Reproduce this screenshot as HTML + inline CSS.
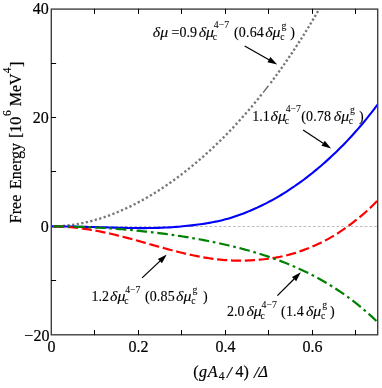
<!DOCTYPE html>
<html><head><meta charset="utf-8"><title>Free energy</title>
<style>
html,body{margin:0;padding:0;background:#fff;}
svg{display:block;font-family:"Liberation Serif",serif;font-size:16px;fill:#000;will-change:transform;}
text{stroke:#000;stroke-width:0.2px;}
.ax line{stroke:#000;stroke-width:1;}
.it{font-style:italic;}
.sl{font-style:italic;font-size:17px;}
.s,.s3{font-size:11.5px;}
.a{font-size:14px;stroke-width:0.12px;}
.as{font-size:9.8px;stroke-width:0.05px;}
.s,.s3{stroke-width:0.15px;}
.g{font-size:14.7px;font-style:italic;stroke-width:0.1px;}
</style></head><body>
<svg width="382" height="388" viewBox="0 0 382 388">
<rect width="382" height="388" fill="#fff"/>
<defs><clipPath id="cp"><rect x="51.5" y="9.1" width="326.3" height="325.95"/></clipPath></defs>
<g class="ax">
<line x1="94.5" y1="334.8" x2="94.5" y2="330.00"/>
<line x1="94.5" y1="9.1" x2="94.5" y2="13.90"/>
<line x1="138.5" y1="334.8" x2="138.5" y2="330.00"/>
<line x1="138.5" y1="9.1" x2="138.5" y2="13.90"/>
<line x1="181.5" y1="334.8" x2="181.5" y2="330.00"/>
<line x1="181.5" y1="9.1" x2="181.5" y2="13.90"/>
<line x1="225.5" y1="334.8" x2="225.5" y2="330.00"/>
<line x1="225.5" y1="9.1" x2="225.5" y2="13.90"/>
<line x1="268.5" y1="334.8" x2="268.5" y2="330.00"/>
<line x1="268.5" y1="9.1" x2="268.5" y2="13.90"/>
<line x1="312.5" y1="334.8" x2="312.5" y2="330.00"/>
<line x1="312.5" y1="9.1" x2="312.5" y2="13.90"/>
<line x1="355.5" y1="334.8" x2="355.5" y2="330.00"/>
<line x1="355.5" y1="9.1" x2="355.5" y2="13.90"/>
<line x1="51.3" y1="63.5" x2="56.10" y2="63.5"/>
<line x1="51.3" y1="117.5" x2="56.10" y2="117.5"/>
<line x1="51.3" y1="171.5" x2="56.10" y2="171.5"/>
<line x1="51.3" y1="226.5" x2="56.10" y2="226.5"/>
<line x1="51.3" y1="280.5" x2="56.10" y2="280.5"/>
</g>
<line x1="51.5" y1="226.5" x2="377.8" y2="226.5" stroke="#b4b4b4" stroke-width="0.9" stroke-dasharray="2.7 2.0" stroke-dashoffset="1.75"/>
<g clip-path="url(#cp)" fill="none" stroke-linejoin="round">
<path d="M85.74 222.41L87.93 221.89M81.22 223.37L83.43 222.92M76.68 224.21L78.90 223.82M72.12 224.92L74.34 224.59M67.53 225.50L69.77 225.24M62.93 225.94L65.18 225.74M58.32 226.23L60.57 226.11M53.71 226.38L55.96 226.33M90.23 221.32L92.41 220.75M94.73 220.12L96.89 219.49M99.19 218.80L101.33 218.12M103.61 217.37L105.74 216.65M108.01 215.84L110.12 215.07M112.37 214.22L114.46 213.40M116.69 212.50L118.77 211.64M120.97 210.69L123.03 209.79M125.22 208.80L127.27 207.85M129.44 206.82L131.46 205.84M133.61 204.77L135.61 203.75M137.74 202.64L139.73 201.58M141.84 200.44L143.81 199.35M145.90 198.16L147.85 197.04M149.92 195.83L151.86 194.67M153.91 193.43L155.82 192.24M157.85 190.96L159.75 189.75M161.76 188.44L163.64 187.20M165.63 185.86L167.49 184.59M169.47 183.23L171.31 181.93M173.27 180.54L175.09 179.22M177.03 177.80L178.83 176.46M180.75 175.01L182.54 173.65M184.44 172.18L186.21 170.79M188.09 169.30L189.84 167.89M191.71 166.37L193.44 164.94M195.29 163.40L197.01 161.95M198.83 160.39L200.53 158.92M202.34 157.34L204.03 155.85M205.84 154.23L207.51 152.72M209.30 151.09L210.95 149.56M212.72 147.90L214.36 146.36M216.11 144.68L217.73 143.12M219.47 141.43L221.07 139.85M222.79 138.14L224.38 136.55M226.08 134.82L227.65 133.21M229.34 131.46L230.89 129.84M232.56 128.08L234.10 126.44M235.75 124.66L237.28 123.01M238.91 121.22L240.42 119.55M242.04 117.74L243.53 116.06M245.14 114.24L246.61 112.54M248.20 110.71L249.66 109.00M251.23 107.15L252.68 105.43M254.24 103.57L255.67 101.83M257.21 99.96L258.63 98.21M260.15 96.33L261.56 94.57M270.55 82.99L271.91 81.20M273.21 79.46L274.55 77.65M275.84 75.91L277.17 74.09M278.44 72.33L279.76 70.51M281.02 68.74L282.33 66.91M283.58 65.14L284.87 63.30M286.11 61.51L287.39 59.66M288.62 57.87L289.89 56.01M291.10 54.22L292.36 52.35M293.56 50.54L294.81 48.67M296.00 46.85L297.23 44.97M298.41 43.15L299.63 41.26M300.81 39.43L302.01 37.54M303.17 35.70L304.37 33.80M305.52 31.95L306.71 30.04M307.85 28.19L309.02 26.28M310.15 24.42L311.31 22.50M312.43 20.63L313.58 18.70M314.69 16.84L315.83 14.90M316.93 13.02L318.06 11.08M319.15 9.20L320.27 7.25M321.35 5.37L322.46 3.41" stroke="#777" stroke-width="2.35"/>
<path d="M263.08 92.65L268.48 85.71" stroke="#6c6c6c" stroke-width="1.4"/>
<path d="M51.50 226.40L53.69 226.40L55.88 226.41L58.07 226.42L60.26 226.43L62.45 226.45L64.64 226.47L66.83 226.50L69.02 226.53L71.21 226.56L73.40 226.60L75.59 226.64L77.78 226.68L79.97 226.72L82.16 226.77L84.35 226.82L86.54 226.88L88.73 226.93L90.92 226.99L93.11 227.05L95.30 227.11L97.49 227.17L99.68 227.23L101.87 227.29L104.06 227.36L106.25 227.42L108.44 227.48L110.63 227.54L112.82 227.60L115.01 227.66L117.20 227.72L119.39 227.77L121.58 227.82L123.77 227.87L125.96 227.91L128.15 227.95L130.34 227.99L132.53 228.02L134.72 228.05L136.91 228.07L139.10 228.08L141.29 228.09L143.48 228.08L145.67 228.08L147.86 228.06L150.05 228.03L152.24 228.00L154.43 227.96L156.62 227.90L158.81 227.84L161.00 227.76L163.19 227.67L165.38 227.57L167.57 227.46L169.76 227.33L171.95 227.19L174.14 227.04L176.33 226.87L178.52 226.69L180.71 226.49L182.90 226.28L185.09 226.06L187.28 225.83L189.47 225.60L191.66 225.35L193.85 225.10L196.04 224.83L198.23 224.55L200.42 224.25L202.61 223.94L204.80 223.61L206.99 223.26L209.18 222.89L211.37 222.50L213.56 222.08L215.74 221.64L217.93 221.17L220.12 220.67L222.31 220.15L224.50 219.59L226.69 219.01L228.88 218.39L231.07 217.73L233.26 217.04L235.45 216.32L237.64 215.56L239.83 214.78L242.02 213.98L244.21 213.15L246.40 212.29L248.59 211.40L250.78 210.49L252.97 209.55L255.16 208.58L257.35 207.59L259.54 206.56L261.73 205.51L263.92 204.43L266.11 203.32L268.30 202.19L270.49 201.02L272.68 199.82L274.87 198.60L277.06 197.35L279.25 196.06L281.44 194.75L283.63 193.41L285.82 192.04L288.01 190.64L290.20 189.20L292.39 187.74L294.58 186.25L296.77 184.73L298.96 183.18L301.15 181.59L303.34 179.98L305.53 178.33L307.72 176.66L309.91 174.95L312.10 173.21L314.29 171.44L316.48 169.64L318.67 167.80L320.86 165.94L323.05 164.04L325.24 162.10L327.43 160.14L329.62 158.14L331.81 156.10L334.00 154.03L336.19 151.93L338.38 149.79L340.57 147.62L342.76 145.40L344.95 143.15L347.14 140.86L349.33 138.54L351.52 136.17L353.71 133.76L355.90 131.31L358.09 128.82L360.28 126.28L362.47 123.70L364.66 121.07L366.85 118.40L369.04 115.67L371.23 112.90L373.42 110.07L375.61 107.19L377.80 104.26" stroke="#0000ff" stroke-width="2.1"/>
<path d="M51.50 226.40L53.69 226.41L55.88 226.44L58.07 226.50L60.26 226.57L62.45 226.67L64.64 226.79L66.83 226.93L69.02 227.09L71.21 227.27L73.40 227.48L75.59 227.70L77.78 227.95L79.97 228.21L82.16 228.49L84.35 228.79L86.54 229.12L88.73 229.46L90.92 229.81L93.11 230.19L95.30 230.58L97.49 230.99L99.68 231.42L101.87 231.86L104.06 232.31L106.25 232.78L108.44 233.27L110.63 233.77L112.82 234.28L115.01 234.80L117.20 235.34L119.39 235.88L121.58 236.44L123.77 237.00L125.96 237.57L128.15 238.16L130.34 238.74L132.53 239.34L134.72 239.94L136.91 240.55L139.10 241.16L141.29 241.77L143.48 242.39L145.67 243.01L147.86 243.62L150.05 244.24L152.24 244.86L154.43 245.48L156.62 246.10L158.81 246.71L161.00 247.32L163.19 247.93L165.38 248.53L167.57 249.12L169.76 249.71L171.95 250.29L174.14 250.86L176.33 251.42L178.52 251.97L180.71 252.51L182.90 253.04L185.09 253.56L187.28 254.06L189.47 254.56L191.66 255.03L193.85 255.49L196.04 255.94L198.23 256.37L200.42 256.78L202.61 257.18L204.80 257.55L206.99 257.91L209.18 258.25L211.37 258.57L213.56 258.87L215.74 259.14L217.93 259.40L220.12 259.63L222.31 259.84L224.50 260.03L226.69 260.19L228.88 260.33L231.07 260.45L233.26 260.54L235.45 260.61L237.64 260.65L239.83 260.67L242.02 260.66L244.21 260.62L246.40 260.56L248.59 260.47L250.78 260.35L252.97 260.21L255.16 260.06L257.35 259.89L259.54 259.70L261.73 259.49L263.92 259.26L266.11 259.01L268.30 258.74L270.49 258.44L272.68 258.12L274.87 257.77L277.06 257.39L279.25 256.98L281.44 256.53L283.63 256.06L285.82 255.55L288.01 255.00L290.20 254.41L292.39 253.78L294.58 253.12L296.77 252.41L298.96 251.67L301.15 250.91L303.34 250.12L305.53 249.29L307.72 248.44L309.91 247.55L312.10 246.64L314.29 245.70L316.48 244.72L318.67 243.72L320.86 242.68L323.05 241.61L325.24 240.50L327.43 239.36L329.62 238.16L331.81 236.91L334.00 235.61L336.19 234.27L338.38 232.87L340.57 231.43L342.76 229.95L344.95 228.43L347.14 226.86L349.33 225.26L351.52 223.62L353.71 221.94L355.90 220.23L358.09 218.47L360.28 216.69L362.47 214.86L364.66 212.96L366.85 211.01L369.04 208.99L371.23 206.90L373.42 204.74L375.61 202.51L377.80 200.19" stroke="#ff0000" stroke-width="2.2" stroke-dasharray="10.2 3.7" stroke-dashoffset="-2.5"/>
<path d="M51.50 226.40L53.69 226.40L55.88 226.41L58.07 226.43L60.26 226.44L62.45 226.47L64.64 226.50L66.83 226.54L69.02 226.58L71.21 226.63L73.40 226.68L75.59 226.74L77.78 226.80L79.97 226.87L82.16 226.95L84.35 227.03L86.54 227.11L88.73 227.20L90.92 227.30L93.11 227.41L95.30 227.51L97.49 227.63L99.68 227.75L101.87 227.87L104.06 228.00L106.25 228.14L108.44 228.28L110.63 228.43L112.82 228.58L115.01 228.74L117.20 228.90L119.39 229.07L121.58 229.25L123.77 229.43L125.96 229.62L128.15 229.81L130.34 230.01L132.53 230.21L134.72 230.42L136.91 230.63L139.10 230.85L141.29 231.08L143.48 231.31L145.67 231.55L147.86 231.79L150.05 232.04L152.24 232.29L154.43 232.56L156.62 232.82L158.81 233.10L161.00 233.37L163.19 233.66L165.38 233.95L167.57 234.25L169.76 234.55L171.95 234.86L174.14 235.18L176.33 235.50L178.52 235.83L180.71 236.17L182.90 236.51L185.09 236.86L187.28 237.21L189.47 237.58L191.66 237.95L193.85 238.33L196.04 238.71L198.23 239.10L200.42 239.50L202.61 239.91L204.80 240.33L206.99 240.75L209.18 241.18L211.37 241.62L213.56 242.07L215.74 242.53L217.93 242.99L220.12 243.47L222.31 243.95L224.50 244.45L226.69 244.95L228.88 245.46L231.07 245.98L233.26 246.52L235.45 247.06L237.64 247.61L239.83 248.18L242.02 248.76L244.21 249.34L246.40 249.94L248.59 250.55L250.78 251.18L252.97 251.81L255.16 252.46L257.35 253.12L259.54 253.80L261.73 254.49L263.92 255.19L266.11 255.91L268.30 256.64L270.49 257.39L272.68 258.16L274.87 258.94L277.06 259.73L279.25 260.54L281.44 261.37L283.63 262.22L285.82 263.09L288.01 263.97L290.20 264.87L292.39 265.79L294.58 266.73L296.77 267.70L298.96 268.68L301.15 269.68L303.34 270.71L305.53 271.75L307.72 272.82L309.91 273.92L312.10 275.03L314.29 276.17L316.48 277.34L318.67 278.53L320.86 279.74L323.05 280.98L325.24 282.25L327.43 283.55L329.62 284.87L331.81 286.23L334.00 287.61L336.19 289.02L338.38 290.46L340.57 291.93L342.76 293.44L344.95 294.97L347.14 296.54L349.33 298.15L351.52 299.78L353.71 301.45L355.90 303.16L358.09 304.90L360.28 306.68L362.47 308.49L364.66 310.35L366.85 312.24L369.04 314.17L371.23 316.14L373.42 318.15L375.61 320.20L377.80 322.29" stroke="#008000" stroke-width="2.2" stroke-dasharray="10.6 3.8 2.7 3.8" stroke-dashoffset="-1.6"/>
</g>
<rect x="51.3" y="9.1" width="326.4" height="325.7" fill="none" stroke="#3a3a3a" stroke-width="1.35"/>
<g class="ax"><line x1="94.5" y1="335.1" x2="94.5" y2="333.60"/><line x1="94.5" y1="8.799999999999999" x2="94.5" y2="10.30"/><line x1="138.5" y1="335.1" x2="138.5" y2="333.60"/><line x1="138.5" y1="8.799999999999999" x2="138.5" y2="10.30"/><line x1="181.5" y1="335.1" x2="181.5" y2="333.60"/><line x1="181.5" y1="8.799999999999999" x2="181.5" y2="10.30"/><line x1="225.5" y1="335.1" x2="225.5" y2="333.60"/><line x1="225.5" y1="8.799999999999999" x2="225.5" y2="10.30"/><line x1="268.5" y1="335.1" x2="268.5" y2="333.60"/><line x1="268.5" y1="8.799999999999999" x2="268.5" y2="10.30"/><line x1="312.5" y1="335.1" x2="312.5" y2="333.60"/><line x1="312.5" y1="8.799999999999999" x2="312.5" y2="10.30"/><line x1="355.5" y1="335.1" x2="355.5" y2="333.60"/><line x1="355.5" y1="8.799999999999999" x2="355.5" y2="10.30"/><line x1="51.0" y1="63.5" x2="52.50" y2="63.5"/><line x1="51.0" y1="117.5" x2="52.50" y2="117.5"/><line x1="51.0" y1="171.5" x2="52.50" y2="171.5"/><line x1="51.0" y1="280.5" x2="52.50" y2="280.5"/></g>
<g><text x="51.50" y="352.2" text-anchor="middle">0</text><text x="138.51" y="352.2" text-anchor="middle">0.2</text><text x="225.53" y="352.2" text-anchor="middle">0.4</text><text x="312.54" y="352.2" text-anchor="middle">0.6</text><text x="48.8" y="14.30" text-anchor="end">40</text><text x="48.8" y="122.95" text-anchor="end">20</text><text x="48.8" y="231.60" text-anchor="end">0</text><text x="49.4" y="340.75" text-anchor="end">−20</text></g>
<g><text class="" transform="translate(21.4,223.2) rotate(-90)">Free</text><text class="" transform="translate(21.4,188.9) rotate(-90)">Energy</text><text class="" transform="translate(21.4,138.1) rotate(-90)">[10</text><text class="s" transform="translate(11.399999999999999,116.1) rotate(-90)">6</text><text class="" transform="translate(21.4,106.3) rotate(-90)">MeV</text><text class="s" transform="translate(11.399999999999999,73.2) rotate(-90)">4</text><text class="" transform="translate(22.4,67.1) rotate(-90)">]</text></g>
<g><text class="" x="193.3" y="377">(</text><text class="it" x="199.0" y="377">g</text><text class="it" x="207.8" y="377">A</text><text class="s3" x="218.8" y="380">4</text><text class="sl" x="227.0" y="377.6">/</text><text class="" x="235.5" y="377">4)</text><text class="sl" x="254.0" y="377.6">/</text><text class="it" x="258.4" y="377">Δ</text></g>
<g><text class="g" x="152.8" y="36.6" textLength="15.3" lengthAdjust="spacingAndGlyphs">δμ</text><text class="a" x="171.5" y="36.6">=0.9</text><text class="g" x="198.7" y="36.6" textLength="15.3" lengthAdjust="spacingAndGlyphs">δμ</text><text class="as" x="212.79999999999998" y="39.800000000000004">c</text><text class="as" x="213.79999999999998" y="28.200000000000003">4−7</text><text class="a" x="234.0" y="36.6" letter-spacing="0.16">(0.64</text><text class="g" x="265.2" y="36.6" textLength="15.3" lengthAdjust="spacingAndGlyphs">δμ</text><text class="as" x="280.26" y="39.800000000000004">c</text><text class="as" x="281.5" y="28.6">g</text><text class="a" x="290.2" y="36.6">)</text><text class="a" x="252.3" y="120.5">1.1</text><text class="g" x="270.6" y="120.5" textLength="15.3" lengthAdjust="spacingAndGlyphs">δμ</text><text class="as" x="284.70000000000005" y="123.7">c</text><text class="as" x="285.70000000000005" y="112.1">4−7</text><text class="a" x="301.3" y="120.5" letter-spacing="0.16">(0.78</text><text class="g" x="333.8" y="120.5" textLength="15.3" lengthAdjust="spacingAndGlyphs">δμ</text><text class="as" x="348.86" y="123.7">c</text><text class="as" x="350.1" y="112.5">g</text><text class="a" x="359.0" y="120.5">)</text><text class="a" x="91.6" y="301.1">1.2</text><text class="g" x="110.1" y="301.1" textLength="15.3" lengthAdjust="spacingAndGlyphs">δμ</text><text class="as" x="124.19999999999999" y="304.3">c</text><text class="as" x="125.19999999999999" y="292.70000000000005">4−7</text><text class="a" x="144.9" y="301.1" letter-spacing="0.16">(0.85</text><text class="g" x="176.1" y="301.1" textLength="15.3" lengthAdjust="spacingAndGlyphs">δμ</text><text class="as" x="191.16" y="304.3">c</text><text class="as" x="192.39999999999998" y="293.1">g</text><text class="a" x="202.9" y="301.1">)</text><text class="a" x="226.9" y="316">2.0</text><text class="g" x="246.4" y="316" textLength="15.3" lengthAdjust="spacingAndGlyphs">δμ</text><text class="as" x="260.5" y="319.2">c</text><text class="as" x="261.5" y="307.6">4−7</text><text class="a" x="281.1" y="316" letter-spacing="0.16">(1.4</text><text class="g" x="306.0" y="316" textLength="15.3" lengthAdjust="spacingAndGlyphs">δμ</text><text class="as" x="321.06" y="319.2">c</text><text class="as" x="322.3" y="308.0">g</text><text class="a" x="330.0" y="316">)</text></g>
<g><line x1="244.7" y1="46.0" x2="268.93" y2="59.72" stroke="#000" stroke-width="1.25"/><polygon points="277.2,64.4 267.45,62.33 270.41,57.11" fill="#000"/><line x1="303.1" y1="130.0" x2="323.16" y2="143.18" stroke="#000" stroke-width="1.25"/><polygon points="331.1,148.4 321.51,145.69 324.81,140.68" fill="#000"/><line x1="142.1" y1="277.9" x2="159.89" y2="261.12" stroke="#000" stroke-width="1.25"/><polygon points="166.8,254.6 161.95,263.30 157.83,258.94" fill="#000"/><line x1="277.4" y1="295.6" x2="294.07" y2="279.00" stroke="#000" stroke-width="1.25"/><polygon points="300.8,272.3 296.18,281.13 291.95,276.88" fill="#000"/></g>
</svg>
</body></html>
